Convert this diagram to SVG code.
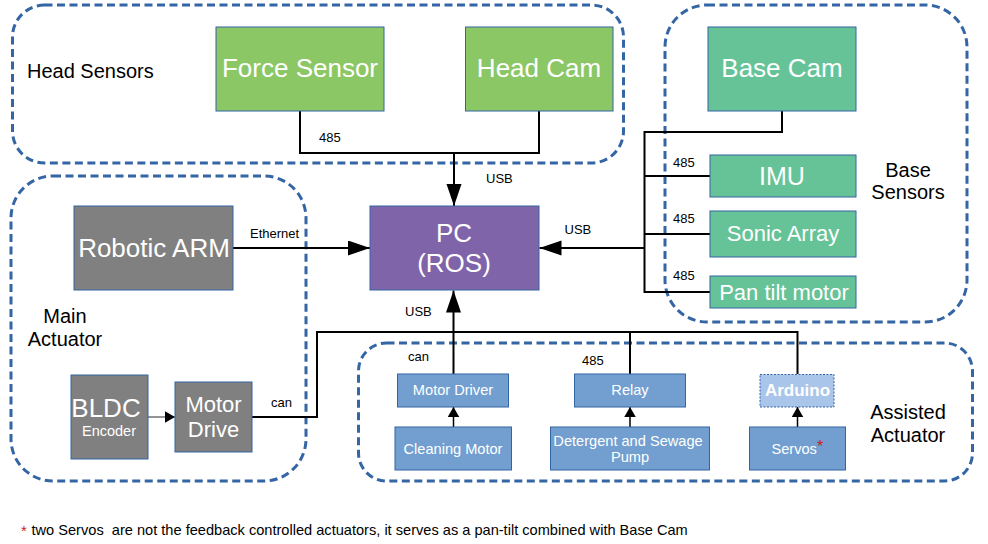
<svg xmlns="http://www.w3.org/2000/svg" width="988" height="544" viewBox="0 0 988 544">
<style>
text{font-family:"Liberation Sans",Arial,sans-serif}
.grp{fill:none;stroke:#3465a4;stroke-width:3;stroke-dasharray:8 4.5}
.nb{stroke:#3465a4;stroke-width:1}
.green{fill:#8cc766}
.teal{fill:#66c397}
.gray{fill:#808080}
.purple{fill:#8064aa}
.blue{fill:#729fcf}
.wt{fill:#ffffff;text-anchor:middle}
.bk{fill:#000000}
.lbl{fill:#000000;font-size:13px}
.conn{fill:none;stroke:#000000;stroke-width:2}
.thin{fill:none;stroke:#000000;stroke-width:1.5}
</style>
<defs>
<marker id="big" markerUnits="userSpaceOnUse" markerWidth="23" markerHeight="16" refX="22" refY="7.5" orient="auto">
<path d="M0,0 L22,7.5 L0,15 z" fill="#000"/>
</marker>
<marker id="small" markerUnits="userSpaceOnUse" markerWidth="11" markerHeight="12" refX="10" refY="5.75" orient="auto">
<path d="M0,0 L10,5.75 L0,11.5 z" fill="#000"/>
</marker>
</defs>

<g id="groups">
<rect id="grp-head" class="grp" x="12.5" y="5" width="611" height="158" rx="32"/>
<rect id="grp-base" class="grp" x="665" y="5" width="302" height="317" rx="42"/>
<rect id="grp-main" class="grp" x="11" y="176" width="295" height="305" rx="42"/>
<rect id="grp-assist" class="grp" x="358.5" y="343" width="614" height="138" rx="28"/>
<text class="bk" x="27" y="78" font-size="20">Head Sensors</text>
<text class="bk" text-anchor="middle" font-size="20"><tspan x="908" y="177">Base</tspan><tspan x="908" y="199">Sensors</tspan></text>
<text class="bk" text-anchor="middle" font-size="20"><tspan x="65" y="323">Main</tspan><tspan x="65" y="346">Actuator</tspan></text>
<text class="bk" text-anchor="middle" font-size="20"><tspan x="908" y="419">Assisted</tspan><tspan x="908" y="442">Actuator</tspan></text>
</g>

<g id="connectors">
<path class="conn" d="M300,111 V153 H539 V111"/>
<path class="conn" d="M454,153 V206" marker-end="url(#big)"/>
<path class="conn" d="M233,248 H370" marker-end="url(#big)"/>
<path class="conn" d="M782,111 V132 H644.5 V292 H710 M644.5,176 H710 M644.5,234 H710"/>
<path class="conn" d="M644.5,248 H539.5" marker-end="url(#big)"/>
<path class="conn" d="M252,417 H317 V332 H797.5 V374 M630,332 V374"/>
<path class="conn" d="M453.5,374 V290.5" marker-end="url(#big)"/>
<path class="thin" d="M453.5,427 V407" marker-end="url(#small)"/>
<path class="thin" d="M630,427 V407" marker-end="url(#small)"/>
<path class="thin" d="M797.5,427 V407" marker-end="url(#small)"/>
<path fill="none" stroke="#707070" stroke-width="1.5" d="M148,417 H175" marker-end="url(#small)"/>
<text class="lbl" x="319" y="141.5">485</text>
<text class="lbl" x="486" y="182.5">USB</text>
<text class="lbl" x="250" y="237.5">Ethernet</text>
<text class="lbl" x="564.5" y="233.5">USB</text>
<text class="lbl" x="673" y="166.5">485</text>
<text class="lbl" x="673" y="222.5">485</text>
<text class="lbl" x="673" y="279.5">485</text>
<text class="lbl" x="271" y="406.5">can</text>
<text class="lbl" x="405" y="315.5">USB</text>
<text class="lbl" x="408" y="360.5">can</text>
<text class="lbl" x="582" y="364.5">485</text>
</g>

<g id="force-sensor">
<rect class="green nb" x="216" y="27" width="168" height="84"/>
<text class="wt" x="300" y="77" font-size="26">Force Sensor</text>
</g>
<g id="head-cam">
<rect class="green nb" x="465.5" y="27" width="147.5" height="84"/>
<text class="wt" x="539" y="77" font-size="26">Head Cam</text>
</g>
<g id="base-cam">
<rect class="teal nb" x="708" y="27" width="148" height="84"/>
<text class="wt" x="782" y="77" font-size="26">Base Cam</text>
</g>
<g id="imu">
<rect class="teal nb" x="710" y="155" width="146" height="42"/>
<text class="wt" x="782" y="185" font-size="25">IMU</text>
</g>
<g id="sonic-array">
<rect class="teal nb" x="710" y="211" width="146" height="46"/>
<text class="wt" x="783" y="241" font-size="22">Sonic Array</text>
</g>
<g id="pan-tilt-motor">
<rect class="teal nb" x="710" y="276" width="146" height="32"/>
<text class="wt" x="784" y="299.5" font-size="22">Pan tilt motor</text>
</g>
<g id="pc">
<rect class="purple nb" x="370" y="206" width="169" height="84"/>
<text class="wt" x="454" y="242" font-size="26">PC</text>
<text class="wt" x="454" y="272" font-size="26">(ROS)</text>
</g>
<g id="robotic-arm">
<rect class="gray nb" x="74" y="206" width="159" height="84"/>
<text class="wt" x="154" y="257" font-size="26">Robotic ARM</text>
</g>
<g id="bldc">
<rect class="gray nb" x="71" y="375" width="77" height="84"/>
<text class="wt" x="106" y="417" font-size="26">BLDC</text>
<text class="wt" x="109" y="436" font-size="14.5">Encoder</text>
</g>
<g id="motor-drive">
<rect class="gray nb" x="175" y="382" width="77" height="70"/>
<text class="wt" x="213.5" y="412" font-size="22">Motor</text>
<text class="wt" x="213.5" y="437" font-size="22">Drive</text>
</g>
<g id="motor-driver">
<rect class="blue nb" x="397.5" y="374" width="111" height="33"/>
<text class="wt" x="453" y="395" font-size="14.6">Motor Driver</text>
</g>
<g id="relay">
<rect class="blue nb" x="574.5" y="374" width="111" height="33"/>
<text class="wt" x="630" y="395" font-size="14.6">Relay</text>
</g>
<g id="arduino">
<rect fill="#aac5ea" stroke="#3465a4" stroke-width="1" stroke-dasharray="2 1.5" x="760" y="374.5" width="74" height="32.5"/>
<text class="wt" x="797.5" y="396" font-size="17" font-weight="bold">Arduino</text>
</g>
<g id="cleaning-motor">
<rect class="blue nb" x="395" y="427" width="116.5" height="43"/>
<text class="wt" x="453" y="453.5" font-size="14.6">Cleaning Motor</text>
</g>
<g id="pump">
<rect class="blue nb" x="550.5" y="427" width="159" height="43"/>
<text class="wt" x="628" y="445.5" font-size="14.6">Detergent and Sewage</text>
<text class="wt" x="630" y="462" font-size="14.6">Pump</text>
</g>
<g id="servos">
<rect class="blue nb" x="749.5" y="427" width="96" height="43"/>
<text fill="#ffffff" x="771.5" y="453.5" font-size="14.6">Servos<tspan fill="#c9211e" font-size="16" dy="-1.5">*</tspan></text>
</g>

<g id="footnote">
<text x="21" y="535.5" font-size="15" fill="#c9211e">*</text>
<text x="31.5" y="535" font-size="14.6" fill="#000" xml:space="preserve">two Servos  are not the feedback controlled actuators, it serves as a pan-tilt combined with Base Cam</text>
</g>
</svg>
